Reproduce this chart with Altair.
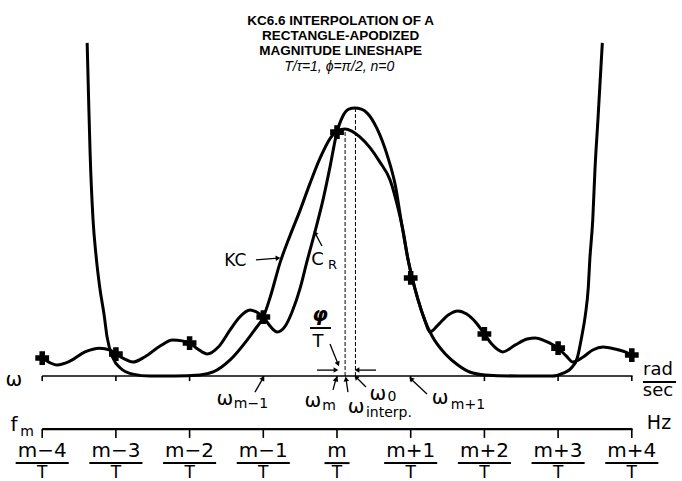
import math
import altair as alt
import pandas as pd

# ---------------- data (x in bins relative to m, y = magnitude, C_R peak = 1) -------------
bins = [-4, -3, -2, -1, 0, 1, 2, 3, 4]
bin_labels = ["m−4", "m−3", "m−2", "m−1", "m", "m+1", "m+2", "m+3", "m+4"]
sample_y = [0.067, 0.082, 0.123, 0.220, 0.910, 0.366, 0.157, 0.104, 0.078]

cr_x = [-4.00, -3.89, -3.80, -3.62, -3.42, -3.22, -3.08, -3.00, -2.88, -2.77, -2.61, -2.40,
        -2.23, -2.10, -2.00, -1.89, -1.76, -1.61, -1.45, -1.32, -1.18, -1.07, -1.00, -0.91,
        -0.81, -0.71, -0.61, -0.50, -0.41, -0.30, -0.19, -0.09, -0.01, 0.08, 0.16, 0.24,
        0.33, 0.41, 0.54, 0.68, 0.79, 0.88, 0.96, 1.02, 1.10, 1.19, 1.26, 1.37, 1.51, 1.64,
        1.76, 1.89, 2.00, 2.10, 2.25, 2.42, 2.58, 2.69, 2.82, 3.00, 3.11, 3.20, 3.34, 3.47,
        3.61, 3.77, 3.91, 4.00]
cr_y = [0.067, 0.049, 0.041, 0.056, 0.090, 0.104, 0.097, 0.082, 0.063, 0.052, 0.071, 0.112,
        0.134, 0.131, 0.123, 0.101, 0.082, 0.108, 0.172, 0.220, 0.246, 0.235, 0.220, 0.187,
        0.164, 0.183, 0.239, 0.328, 0.425, 0.537, 0.657, 0.787, 0.899, 0.970, 0.996, 1.000,
        0.996, 0.981, 0.925, 0.825, 0.713, 0.563, 0.440, 0.366, 0.284, 0.209, 0.164, 0.190,
        0.228, 0.243, 0.231, 0.198, 0.157, 0.119, 0.090, 0.116, 0.138, 0.142, 0.131, 0.104,
        0.075, 0.052, 0.071, 0.097, 0.108, 0.101, 0.090, 0.078]

kc_x = [-3.39, -3.37, -3.35, -3.31, -3.27, -3.22, -3.16, -3.12, -3.04, -2.94, -2.77, -2.54,
        -2.20, -1.86, -1.68, -1.45, -1.22, -1.11, -1.00, -0.91, -0.77, -0.64, -0.50, -0.37,
        -0.23, -0.09, 0.00, 0.11, 0.20, 0.31, 0.45, 0.58, 0.72, 0.81, 0.90, 0.96, 1.02, 1.10,
        1.19, 1.29, 1.47, 1.64, 1.80, 2.01, 2.48, 2.92, 3.07, 3.18, 3.26, 3.32, 3.37, 3.41,
        3.43, 3.47, 3.50, 3.54, 3.60]
kc_y = [1.243, 1.030, 0.832, 0.582, 0.451, 0.332, 0.228, 0.146, 0.067, 0.030, 0.007, 0.000,
        0.000, 0.004, 0.015, 0.060, 0.134, 0.175, 0.220, 0.291, 0.425, 0.522, 0.619, 0.716,
        0.813, 0.888, 0.914, 0.922, 0.914, 0.892, 0.851, 0.799, 0.731, 0.646, 0.537, 0.440,
        0.366, 0.284, 0.209, 0.149, 0.082, 0.041, 0.015, 0.004, 0.000, 0.000, 0.011, 0.030,
        0.067, 0.146, 0.228, 0.332, 0.433, 0.582, 0.769, 0.955, 1.243]

omega_interp = 0.11
omega_0 = 0.25
kc_peak = 0.922
cr_peak = 1.0

title_lines = ["KC6.6 INTERPOLATION OF A", "RECTANGLE-APODIZED", "MAGNITUDE LINESHAPE"]
subtitle = "T/τ=1, ϕ=π/2, n=0"

# ---------------- layout ----------------
W, H = 682, 481
XD = [-4.5726, 4.6811]
YD = [-0.3918, 1.4030]
XS = alt.Scale(domain=XD, nice=False, zero=False)
YS = alt.Scale(domain=YD, nice=False, zero=False)
PX = W / (XD[1] - XD[0])
PY = H / (YD[1] - YD[0])

AX_Y = 0.0          # omega axis
FM_Y = -0.198       # f_m axis
NUM_Y = -0.280
BAR_Y = -0.325
DEN_Y = -0.362
FONT = "DejaVu Sans"


def X(f):
    return alt.X(f, type="quantitative", scale=XS, axis=None)


def Y(f):
    return alt.Y(f, type="quantitative", scale=YS, axis=None)


def X2(f):
    return alt.X2(f)


def Y2(f):
    return alt.Y2(f)


layers = []

# curves
layers.append(alt.Chart(pd.DataFrame({"x": cr_x, "y": cr_y})).mark_line(
    color="black", strokeWidth=3, interpolate="monotone").encode(x=X("x"), y=Y("y")))
layers.append(alt.Chart(pd.DataFrame({"x": kc_x, "y": kc_y})).mark_line(
    color="black", strokeWidth=3, interpolate="monotone").encode(x=X("x"), y=Y("y")))

# sample markers
layers.append(alt.Chart(pd.DataFrame({"x": bins, "y": sample_y})).mark_point(
    shape="cross", filled=True, color="black", opacity=1, size=190).encode(x=X("x"), y=Y("y")))

# dashed verticals
layers.append(alt.Chart(pd.DataFrame({"x": [omega_interp, omega_0], "y": [0, 0],
                                      "y2": [kc_peak, cr_peak]})).mark_rule(
    color="black", strokeWidth=1, strokeDash=[4, 2]).encode(x=X("x"), y=Y("y"), y2=Y2("y2")))

# axes lines
axes_df = pd.DataFrame({"x": [bins[0], bins[0]], "x2": [bins[-1] + 0.01, bins[-1] + 0.01],
                        "y": [AX_Y, FM_Y], "w": [1.6, 2.2]})
layers.append(alt.Chart(axes_df).mark_rule(color="black").encode(
    x=X("x"), x2=X2("x2"), y=Y("y"), strokeWidth=alt.StrokeWidth("w:Q", scale=None)))

# ticks
tick_df = pd.DataFrame({"x": bins + bins,
                        "y": [AX_Y] * 9 + [FM_Y] * 9,
                        "y2": [AX_Y - 0.019] * 9 + [FM_Y - 0.033] * 9})
layers.append(alt.Chart(tick_df).mark_rule(color="black", strokeWidth=1.6).encode(
    x=X("x"), y=Y("y"), y2=Y2("y2")))

# fraction labels m±k / T
layers.append(alt.Chart(pd.DataFrame({"x": bins, "t": bin_labels, "y": [NUM_Y] * 9})).mark_text(
    font=FONT, fontSize=20, color="black", baseline="middle").encode(x=X("x"), y=Y("y"), text="t:N"))
layers.append(alt.Chart(pd.DataFrame({"x": bins, "t": ["T"] * 9, "y": [DEN_Y] * 9})).mark_text(
    font=FONT, fontSize=17, color="black", baseline="middle").encode(x=X("x"), y=Y("y"), text="t:N"))
half = [0.36 if len(s) > 1 else 0.17 for s in bin_labels]
layers.append(alt.Chart(pd.DataFrame({"x": [b - h for b, h in zip(bins, half)],
                                      "x2": [b + h for b, h in zip(bins, half)],
                                      "y": [BAR_Y] * 9})).mark_rule(
    color="black", strokeWidth=2).encode(x=X("x"), x2=X2("x2"), y=Y("y")))

# other fraction bars (phi/T, rad/sec)
layers.append(alt.Chart(pd.DataFrame({"x": [-0.366, 4.152], "x2": [-0.081, 4.600],
                                      "y": [0.179, -0.022]})).mark_rule(
    color="black", strokeWidth=2).encode(x=X("x"), x2=X2("x2"), y=Y("y")))

# arrows
arrows = pd.DataFrame({
    "x": [-1.10, -0.204, -0.095, -0.271, 0.529, -1.113, -0.054, 0.149, 0.393, 1.221],
    "y": [0.433, 0.485, 0.119, 0.022, 0.022, -0.060, -0.052, -0.060, -0.041, -0.067],
    "x2": [-0.80, -0.299, 0.014, -0.014, 0.271, -1.004, -0.014, 0.122, 0.258, 1.004],
    "y2": [0.440, 0.534, 0.045, 0.022, 0.022, -0.008, -0.011, -0.011, -0.004, -0.011],
})
arrows["angle"] = [
    (math.degrees(math.atan2((b - a) * PX, (d - c) * PY)) + 360) % 360
    for a, b, c, d in zip(arrows["x"], arrows["x2"], arrows["y"], arrows["y2"])
]
layers.append(alt.Chart(arrows).mark_rule(color="black", strokeWidth=1.3).encode(
    x=X("x"), x2=X2("x2"), y=Y("y"), y2=Y2("y2")))
layers.append(alt.Chart(arrows).mark_point(
    shape="triangle-up", filled=True, color="black", opacity=1, size=30).encode(
    x=X("x2"), y=Y("y2"), angle=alt.Angle("angle:Q", scale=None)))

# title
layers.append(alt.Chart(pd.DataFrame({"t": title_lines, "x": [0.05] * 3,
                                      "y": [1.325, 1.269, 1.213]})).mark_text(
    font="Liberation Sans", fontWeight="bold", fontSize=13.5, color="black",
    baseline="middle").encode(x=X("x"), y=Y("y"), text="t:N"))
layers.append(alt.Chart(pd.DataFrame({"t": [subtitle], "x": [0.03], "y": [1.153]})).mark_text(
    font="Liberation Sans", fontStyle="italic", fontSize=14, color="black",
    baseline="middle").encode(x=X("x"), y=Y("y"), text="t:N"))

# annotation labels (centered)
ann = pd.DataFrame([
    ("KC", -1.38, 0.429, 17),
    ("C", -0.265, 0.433, 18),
    ("R", -0.061, 0.414, 13),
    ("T", -0.258, 0.127, 18),
    ("ω", -1.520, -0.086, 20), ("m−1", -1.167, -0.104, 14),
    ("ω", -0.326, -0.093, 20), ("m", -0.109, -0.112, 14),
    ("ω", 0.258, -0.116, 20),
    ("ω", 0.556, -0.067, 20), ("0", 0.746, -0.078, 14),
    ("ω", 1.398, -0.082, 20), ("m+1", 1.777, -0.108, 14),
    ("ω", -4.383, -0.015, 20),
    ("f", -4.383, -0.183, 20), ("m", -4.206, -0.209, 14),
    ("rad", 4.355, 0.022, 18), ("sec", 4.355, -0.056, 18),
    ("Hz", 4.369, -0.175, 19),
], columns=["t", "x", "y", "s"])
layers.append(alt.Chart(ann).mark_text(font=FONT, color="black", baseline="middle").encode(
    x=X("x"), y=Y("y"), text="t:N", size=alt.Size("s:Q", scale=None)))

layers.append(alt.Chart(pd.DataFrame({"t": ["interp."], "x": [0.393], "y": [-0.138]})).mark_text(
    font=FONT, fontSize=14, color="black", align="left", baseline="middle").encode(
    x=X("x"), y=Y("y"), text="t:N"))
layers.append(alt.Chart(pd.DataFrame({"t": ["φ"], "x": [-0.231], "y": [0.228]})).mark_text(
    font=FONT, fontSize=20, fontWeight="bold", fontStyle="italic", color="black",
    baseline="middle").encode(x=X("x"), y=Y("y"), text="t:N"))

chart = alt.layer(*layers).properties(
    width=W, height=H, padding=0, autosize=alt.AutoSizeParams(type="none"),
    background="white",
).configure_view(stroke=None)

chart.save("out.html", embed_options={"renderer": "svg", "actions": False})
